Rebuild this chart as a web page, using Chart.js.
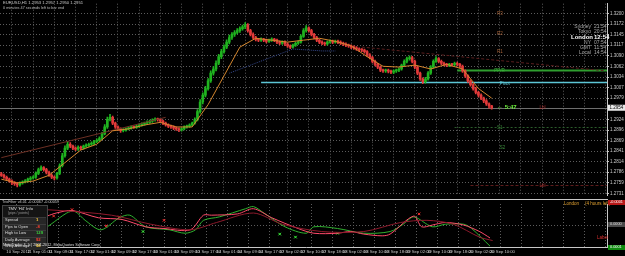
<!DOCTYPE html>
<html><head><meta charset="utf-8">
<script src="https://cdn.jsdelivr.net/npm/chart.js@4.4.1/dist/chart.umd.min.js"></script>
<style>
html,body{margin:0;padding:0;background:#000;width:625px;height:256px;overflow:hidden}
#wrap{position:relative;width:625px;height:256px;font-family:'Liberation Sans',Arial,sans-serif;background:#000}
canvas{position:absolute;left:0}
#main{top:0}
#sub{top:199px}
.t{position:absolute;white-space:nowrap;line-height:1;color:#c8c8c8;font-size:4.5px}
.box{position:absolute}
</style></head><body>
<div id="wrap">
<canvas id="main" width="625" height="199"></canvas>
<canvas id="sub" width="625" height="57"></canvas>
</div>
<script>
// ---------- data ----------
const dateLabels = ['10 Sep 2012','11 Sep 01:00','11 Sep 09:00','11 Sep 17:00','12 Sep 01:00','12 Sep 09:00','12 Sep 17:00','13 Sep 01:00','13 Sep 09:00','13 Sep 17:00','14 Sep 01:00','14 Sep 09:00','14 Sep 17:00','17 Sep 02:00','17 Sep 10:00','17 Sep 18:00','18 Sep 02:00','18 Sep 10:00','18 Sep 18:00','19 Sep 02:00','19 Sep 10:00','19 Sep 18:00','20 Sep 02:00','20 Sep 10:00'];
const priceTicks = [1.3200,1.3172,1.3145,1.3117,1.3090,1.3062,1.3034,1.3007,1.2979,1.2952,1.2924,1.2896,1.2869,1.2841,1.2814,1.2786,1.2759,1.2731];
const opens = [
1.2782,1.2778,1.2773,1.2768,1.2763,1.2758,1.2756,1.2753,1.2758,1.2761,
1.2763,1.2768,1.2771,1.2773,1.2783,1.2793,1.2798,1.2793,1.2786,1.2778,
1.2773,1.2771,1.2783,1.2803,1.2829,1.2849,1.2859,1.2854,1.2849,1.2846,
1.2851,1.2849,1.2854,1.2856,1.2859,1.2861,1.2866,1.2869,1.2874,1.2886,
1.2904,1.2924,1.2929,1.2914,1.2904,1.2899,1.2894,1.2896,1.2899,1.2901,
1.2904,1.2903,1.2906,1.2909,1.2911,1.2914,1.2916,1.2919,1.2922,1.2924,
1.2923,1.2919,1.2914,1.2909,1.2906,1.2904,1.2901,1.2899,1.2896,1.2899,
1.2904,1.2906,1.2909,1.2914,1.2924,1.2944,1.2969,1.2987,1.3004,1.3024,
1.3044,1.3055,1.3070,1.3087,1.3100,1.3112,1.3125,1.3137,1.3145,1.3150,
1.3155,1.3160,1.3165,1.3170,1.3155,1.3145,1.3137,1.3132,1.3130,1.3132,
1.3130,1.3127,1.3130,1.3132,1.3130,1.3125,1.3122,1.3125,1.3120,1.3115,
1.3112,1.3117,1.3122,1.3125,1.3140,1.3155,1.3162,1.3155,1.3145,1.3137,
1.3130,1.3125,1.3122,1.3120,1.3125,1.3127,1.3125,1.3127,1.3125,1.3122,
1.3120,1.3117,1.3115,1.3112,1.3110,1.3107,1.3105,1.3104,1.3100,1.3092,
1.3085,1.3075,1.3067,1.3060,1.3052,1.3050,1.3052,1.3049,1.3047,1.3050,
1.3052,1.3055,1.3065,1.3075,1.3082,1.3085,1.3075,1.3060,1.3044,1.3029,
1.3022,1.3029,1.3044,1.3060,1.3075,1.3082,1.3075,1.3070,1.3067,1.3065,
1.3067,1.3066,1.3070,1.3067,1.3062,1.3050,1.3037,1.3024,1.3014,1.3004,
1.2994,1.2987,1.2979,1.2972,1.2964,1.2959];
const closes = [
1.2778,1.2773,1.2768,1.2763,1.2758,1.2756,1.2753,1.2758,1.2761,1.2763,
1.2768,1.2771,1.2773,1.2783,1.2793,1.2798,1.2793,1.2786,1.2778,1.2773,
1.2771,1.2783,1.2803,1.2829,1.2849,1.2859,1.2854,1.2849,1.2846,1.2851,
1.2849,1.2854,1.2856,1.2859,1.2861,1.2866,1.2869,1.2874,1.2886,1.2904,
1.2924,1.2929,1.2914,1.2904,1.2899,1.2894,1.2896,1.2899,1.2901,1.2904,
1.2903,1.2906,1.2909,1.2911,1.2914,1.2916,1.2919,1.2922,1.2924,1.2923,
1.2919,1.2914,1.2909,1.2906,1.2904,1.2901,1.2899,1.2896,1.2899,1.2904,
1.2906,1.2909,1.2914,1.2924,1.2944,1.2969,1.2987,1.3004,1.3024,1.3044,
1.3055,1.3070,1.3087,1.3100,1.3112,1.3125,1.3137,1.3145,1.3150,1.3155,
1.3160,1.3165,1.3170,1.3155,1.3145,1.3137,1.3132,1.3130,1.3132,1.3130,
1.3127,1.3130,1.3132,1.3130,1.3125,1.3122,1.3125,1.3120,1.3115,1.3112,
1.3117,1.3122,1.3125,1.3140,1.3155,1.3162,1.3155,1.3145,1.3137,1.3130,
1.3125,1.3122,1.3120,1.3125,1.3127,1.3125,1.3127,1.3125,1.3122,1.3120,
1.3117,1.3115,1.3112,1.3110,1.3107,1.3105,1.3104,1.3100,1.3092,1.3085,
1.3075,1.3067,1.3060,1.3052,1.3050,1.3052,1.3049,1.3047,1.3050,1.3052,
1.3055,1.3065,1.3075,1.3082,1.3085,1.3075,1.3060,1.3044,1.3029,1.3022,
1.3029,1.3044,1.3060,1.3075,1.3082,1.3075,1.3070,1.3067,1.3065,1.3067,
1.3066,1.3070,1.3067,1.3062,1.3050,1.3037,1.3024,1.3014,1.3004,1.2994,
1.2987,1.2979,1.2972,1.2964,1.2959,1.2954];
const highs = [
1.2786,1.2781,1.2776,1.2771,1.2766,1.2762,1.2760,1.2761,1.2764,1.2767,
1.2771,1.2775,1.2777,1.2787,1.2797,1.2803,1.2801,1.2796,1.2789,1.2781,
1.2776,1.2786,1.2808,1.2835,1.2855,1.2866,1.2863,1.2857,1.2852,1.2855,
1.2854,1.2857,1.2860,1.2862,1.2865,1.2869,1.2873,1.2878,1.2890,1.2910,
1.2930,1.2937,1.2932,1.2917,1.2907,1.2902,1.2900,1.2902,1.2904,1.2907,
1.2907,1.2909,1.2912,1.2915,1.2917,1.2920,1.2922,1.2925,1.2928,1.2927,
1.2926,1.2922,1.2917,1.2912,1.2909,1.2907,1.2904,1.2902,1.2902,1.2907,
1.2909,1.2912,1.2917,1.2928,1.2949,1.2975,1.2993,1.3010,1.3030,1.3050,
1.3061,1.3076,1.3093,1.3106,1.3118,1.3131,1.3143,1.3150,1.3155,1.3160,
1.3165,1.3169,1.3176,1.3173,1.3158,1.3149,1.3140,1.3135,1.3136,1.3135,
1.3133,1.3133,1.3136,1.3135,1.3133,1.3128,1.3128,1.3128,1.3123,1.3118,
1.3120,1.3125,1.3128,1.3144,1.3160,1.3168,1.3165,1.3158,1.3148,1.3140,
1.3133,1.3128,1.3125,1.3128,1.3131,1.3130,1.3130,1.3130,1.3128,1.3125,
1.3123,1.3120,1.3118,1.3115,1.3113,1.3110,1.3108,1.3107,1.3103,1.3095,
1.3088,1.3078,1.3070,1.3063,1.3055,1.3055,1.3055,1.3052,1.3053,1.3055,
1.3058,1.3068,1.3079,1.3086,1.3089,1.3088,1.3078,1.3063,1.3047,1.3032,
1.3033,1.3048,1.3064,1.3079,1.3087,1.3085,1.3078,1.3073,1.3070,1.3070,
1.3070,1.3073,1.3073,1.3070,1.3065,1.3053,1.3040,1.3027,1.3017,1.3007,
1.2997,1.2990,1.2982,1.2975,1.2967,1.2960];
const lows = [
1.2775,1.2770,1.2765,1.2760,1.2754,1.2752,1.2748,1.2750,1.2755,1.2758,
1.2760,1.2765,1.2768,1.2770,1.2780,1.2790,1.2789,1.2782,1.2775,1.2769,
1.2766,1.2768,1.2780,1.2800,1.2825,1.2845,1.2850,1.2845,1.2842,1.2843,
1.2845,1.2846,1.2851,1.2853,1.2856,1.2858,1.2863,1.2866,1.2871,1.2883,
1.2900,1.2920,1.2910,1.2900,1.2895,1.2890,1.2891,1.2893,1.2896,1.2898,
1.2900,1.2900,1.2903,1.2906,1.2908,1.2911,1.2913,1.2916,1.2919,1.2919,
1.2915,1.2910,1.2906,1.2902,1.2900,1.2897,1.2895,1.2892,1.2893,1.2896,
1.2901,1.2903,1.2906,1.2911,1.2920,1.2940,1.2964,1.2982,1.3000,1.3020,
1.3039,1.3050,1.3066,1.3082,1.3096,1.3108,1.3120,1.3132,1.3140,1.3146,
1.3150,1.3156,1.3160,1.3151,1.3141,1.3133,1.3128,1.3126,1.3127,1.3126,
1.3123,1.3124,1.3127,1.3126,1.3121,1.3118,1.3119,1.3116,1.3111,1.3108,
1.3109,1.3114,1.3119,1.3122,1.3137,1.3151,1.3151,1.3141,1.3133,1.3126,
1.3121,1.3118,1.3116,1.3117,1.3122,1.3121,1.3122,1.3121,1.3118,1.3116,
1.3113,1.3111,1.3108,1.3106,1.3103,1.3101,1.3100,1.3096,1.3088,1.3081,
1.3071,1.3063,1.3056,1.3048,1.3046,1.3046,1.3045,1.3043,1.3043,1.3046,
1.3048,1.3052,1.3062,1.3071,1.3078,1.3071,1.3056,1.3040,1.3025,1.3017,
1.3018,1.3026,1.3041,1.3057,1.3072,1.3071,1.3066,1.3063,1.3061,1.3061,
1.3062,1.3062,1.3063,1.3058,1.3046,1.3033,1.3020,1.3010,1.3000,1.2990,
1.2982,1.2975,1.2967,1.2960,1.2953,1.2950];
// moving average (orange), read at sampled bars
const maIdx = [0,6,12,18,24,30,36,42,48,54,60,66,72,78,84,90,96,102,108,114,120,126,132,138,144,150,156,162,168,174,180,185];
const maVal = [1.2768,1.2758,1.2763,1.2778,1.2811,1.2844,1.2859,1.2894,1.2899,1.2909,1.2916,1.2904,1.2904,1.2962,1.3037,1.3112,1.3135,1.3130,1.3125,1.3130,1.3135,1.3127,1.3115,1.3087,1.3062,1.3060,1.3065,1.3055,1.3067,1.3055,1.3004,1.2979];
// trend lines
const trendIdx = [0,62];            const trendVal = [1.2824,1.2929];
const trend2Idx = [136,228];        const trend2Val = [1.3112,1.3050];
const zigIdx = [86,110,121,121,126]; const zigVal = [1.3044,1.3107,1.3107,1.3102,1.3102];
// levels
const bidPrice = 1.2954;
const levelVal = [1.3052,1.3022,1.2904,1.2753];
const levelStart = [172,98,171,177];
const levelText = ['R3','R2','R1','PP/R','Pivot','S1','S2','Lbl','Lbl'];
const levelTextVal = [1.3200,1.3147,1.3100,1.3050,1.3017,1.2901,1.2849,1.2954,1.2751];
const levelTextIdx = [187,187,187,186,188,187,188,203,203];
// indicator pane
const grIdx = [12,17,23,26,30,36,43,47,53,62,68,72,75,81,91,94,98,106,114,117,126,136,146,151,155,162,167,174,177,184];
const grVal = [32,53,79,83,62,40,68,74,47,40,32,40,62,70,89,94,79,47,32,47,43,32,36,53,70,47,53,53,43,2];
const pkIdx = [0,12,19,25,35,44,53,60,70,75,78,88,94,101,111,117,126,131,136,143,146,155,158,162,167,174,180,184];
const pkVal = [94,68,79,85,68,64,47,43,40,74,74,77,89,68,43,32,32,36,30,26,30,72,47,51,57,51,36,21];
const drIdx = [0,20,40,55,70,80,94,105,120,136,150,160,170,180,185];
const drVal = [91,85,74,53,40,57,79,53,36,36,57,62,53,23,15];
const redMarkIdx = [18,25,38,43,60,157]; const redMarkVal = [72,87,49,70,62,77];
const grnMarkIdx = [52,104,110,126];     const grnMarkVal = [36,30,23,32];

// ---------- build ----------
const N = 229;
const cats = Array.from({length:N},(_,i)=> (i%8===0 && dateLabels[i/8]) ? dateLabels[i/8] : '');
function sparse(idx,val){const a=new Array(N).fill(null);idx.forEach((k,j)=>{a[k]=val[j];});return a;}
const UP='#1fb31f', DN='#e23a3a';
const candleColor = opens.map((o,i)=> closes[i]>=o ? UP : DN);
const GRID='#5c5c5c';
const vGrid = ctx => (ctx.index%8===4) ? GRID : 'rgba(0,0,0,0)';

Chart.defaults.font.family = "'Liberation Sans', Arial, sans-serif";
Chart.defaults.animation = false;

const levelPlugin = {
  id:'levels',
  beforeDatasetsDraw(chart){
    const {ctx, scales:{x,y}, chartArea:a} = chart;
    ctx.save();
    ctx.strokeStyle='#6e6e6e'; ctx.lineWidth=1;
    let yb=Math.round(y.getPixelForValue(bidPrice))+0.5;
    ctx.beginPath(); ctx.moveTo(a.left,yb); ctx.lineTo(a.right,yb); ctx.stroke();
    const st=[{c:'#2f9e2f',w:2,d:[]},{c:'#5cc6d6',w:1.5,d:[]},{c:'#2c5e2c',w:1,d:[2,2]},{c:'#5e1c1c',w:1,d:[3,2]}];
    levelVal.forEach((v,i)=>{
      const yy=Math.round(y.getPixelForValue(v))+0.5;
      ctx.strokeStyle=st[i].c; ctx.lineWidth=st[i].w; ctx.setLineDash(st[i].d);
      ctx.beginPath(); ctx.moveTo(x.getPixelForValue(levelStart[i]),yy); ctx.lineTo(a.right,yy); ctx.stroke();
    });
    ctx.setLineDash([]);
    ctx.restore();
  },
  afterDatasetsDraw(chart){
    const {ctx, scales:{x,y}, chartArea:a} = chart;
    ctx.save();
    const cols=['#a8643a','#a8643a','#a8643a','#3cb43c','#5cc6d6','#3c8c3c','#3c8c3c','#a83030','#a83030'];
    ctx.font="4.5px 'Liberation Sans'"; ctx.textBaseline='middle'; ctx.textAlign='left';
    levelText.forEach((t,i)=>{
      ctx.fillStyle=cols[i];
      ctx.fillText(t, x.getPixelForValue(levelTextIdx[i]), y.getPixelForValue(levelTextVal[i]));
    });
    ctx.font="bold 6px 'Liberation Sans'"; ctx.fillStyle='#6cf03c';
    ctx.fillText('\u2190 5:47', x.getPixelForValue(closes.length+1), y.getPixelForValue(closes[closes.length-1]));
    const yb=y.getPixelForValue(bidPrice);
    ctx.fillStyle='#e8e8e8'; ctx.fillRect(a.right+1,yb-3,17,6);
    ctx.fillStyle='#000'; ctx.font="4.5px 'Liberation Sans'"; ctx.fillText(bidPrice.toFixed(4), a.right+2.5, yb);
    ctx.restore();
  }
};

new Chart(document.getElementById('main'), {
  type:'bar',
  data:{ labels:cats, datasets:[
    {type:'line', data:sparse(maIdx,maVal), borderColor:'#d4862e', borderWidth:1, pointRadius:0, spanGaps:true, order:0},
    {type:'line', data:sparse(trendIdx,trendVal), borderColor:'#6e3024', borderWidth:1, pointRadius:0, spanGaps:true, order:0},
    {type:'line', data:sparse(trend2Idx,trend2Val), borderColor:'#5a1e1e', borderWidth:1, borderDash:[3,2], pointRadius:0, spanGaps:true, order:0},
    {type:'line', data:sparse(zigIdx,zigVal), borderColor:'#34478a', borderWidth:1, borderDash:[1,1], pointRadius:0, spanGaps:true, order:0},
    {data:highs.map((h,i)=>[lows[i],h]), backgroundColor:candleColor, barThickness:1, grouped:false, order:2},
    {data:opens.map((o,i)=>[o,closes[i]]), backgroundColor:candleColor, barThickness:2, minBarLength:1, grouped:false, order:1}
  ]},
  options:{
    responsive:false, animation:false, events:[],
    layout:{padding:{left:0,right:0,top:0,bottom:0}},
    plugins:{legend:{display:false}, tooltip:{enabled:false}},
    scales:{
      x:{type:'category', offset:true, grid:{offset:false, color:vGrid, lineWidth:1, drawTicks:false}, border:{display:false, dash:[1,2]},
         ticks:{display:false, autoSkip:false}, afterFit:s=>{s.height=0;}},
      y:{position:'right', min:1.2726, max:1.3225,
         afterBuildTicks:s=>{s.ticks=priceTicks.map(v=>({value:v}));},
         afterFit:s=>{s.width=18;},
         grid:{color:GRID, lineWidth:1, tickLength:2, tickColor:'#c8c8c8'}, border:{color:'#c8c8c8', width:1, dash:[1,2]},
         ticks:{color:'#c8c8c8', font:{size:4.5}, padding:1, callback:v=>Number(v).toFixed(4)}}
    }
  },
  plugins:[levelPlugin]
});

new Chart(document.getElementById('sub'), {
  type:'line',
  data:{ labels:cats, datasets:[
    {data:sparse(drIdx,drVal), borderColor:'#8e1a2c', borderWidth:1, pointRadius:0, spanGaps:true, tension:0.3},
    {data:sparse(pkIdx,pkVal), borderColor:'#ff4a6a', borderWidth:1, pointRadius:0, spanGaps:true, tension:0.3},
    {data:sparse(grIdx,grVal), borderColor:'#2fb02f', borderWidth:1, pointRadius:0, spanGaps:true, tension:0.3},
    {data:sparse(redMarkIdx,redMarkVal), showLine:false, pointStyle:'crossRot', pointRadius:1.8, borderColor:'#ff3030', borderWidth:1},
    {data:sparse(grnMarkIdx,grnMarkVal), showLine:false, pointStyle:'crossRot', pointRadius:1.8, borderColor:'#40ff40', borderWidth:1}
  ]},
  options:{
    responsive:false, animation:false, events:[],
    layout:{padding:{left:0,right:0,top:1,bottom:0}},
    plugins:{legend:{display:false}, tooltip:{enabled:false}},
    scales:{
      x:{type:'category', offset:true, grid:{offset:false, color:vGrid, drawTicks:false}, border:{color:'#c8c8c8', dash:[1,2]},
         ticks:{autoSkip:false, maxRotation:0, minRotation:0, align:'start', color:'#c8c8c8', font:{size:4.2}, padding:2,
                callback:(v,i)=>cats[i]}, afterFit:s=>{s.height=9;}},
      y:{position:'right', min:0, max:100, afterFit:s=>{s.width=18;},
         afterBuildTicks:s=>{s.ticks=[{value:0},{value:50},{value:100}];},
         grid:{color:c=>c.tick.value===50?GRID:'rgba(0,0,0,0)', drawTicks:false}, border:{color:'#c8c8c8', dash:[1,2]},
         ticks:{display:false}}
    }
  }
});

// ---------- text overlays ----------
const wrap=document.getElementById('wrap');
function txt(s,l,t,css){const d=document.createElement('div');d.className='t';d.textContent=s;d.style.left=l+'px';d.style.top=t+'px';if(css)d.style.cssText+=css;wrap.appendChild(d);return d;}
function box(l,t,w,h,css){const d=document.createElement('div');d.className='box';d.style.cssText+=`left:${l}px;top:${t}px;width:${w}px;height:${h}px;`+css;wrap.appendChild(d);return d;}
txt('EURUSD,H1  1.2953 1.2957 1.2950 1.2951',3,1,'font-size:4.2px;');
txt('0 minutes 47 seconds left to bar end',3,7,'font-size:3.8px;color:#bbb;');
const clkN=['Sydney','Tokyo','London','NY','GMT','Local'];
const clkT=['21:54','20:54','12:54','07:54','11:54','14:54'];
clkN.forEach((n,i)=>{
  const big=i===2; const top=24+i*5+(i>2?1:0);
  txt(n,0,top,`font-size:${big?6:5}px;color:${big?'#fff':'#a8a8a8'};${big?'font-weight:bold;':''}text-align:right;width:20px;left:571px;`);
  txt(clkT[i],594,top,`font-size:${big?6:5}px;color:${big?'#fff':'#a8a8a8'};${big?'font-weight:bold;':''}`);
});
box(0,199,608,1,'background:#c8c8c8;');
txt('TrixFilter v4.01  -0.00067  -0.00059',2,201,'font-size:3.8px;color:#c8c8c8;');
box(2,205,44,42,'background:#141414;border:1px solid #444;');
const rows=[['Spread','1','#ffd23a'],['Pips to Open','-8','#ff4030'],['High to Low','129','#3cd23c'],['Daily Average','92','#ff4030'],['Wkly Average','98','#ffd23a']];
txt("TMV 'H4' Info",8,207,'font-size:4.2px;color:#ddd;');
txt('(pips / points)',8,212,'font-size:3.5px;color:#999;');
rows.forEach((r,i)=>{
  const top=217+i*6.5;
  box(3,top,43,5.5,'background:#262626;border-top:1px solid #3a3a3a;');
  txt(r[0],5,top+1,'font-size:4px;color:#ddd;');
  txt(r[1],36,top+1,`font-size:4.2px;color:${r[2]};font-weight:bold;`);
});
txt('MetaTrader 4, (c) 2001-2012, MetaQuotes Software Corp.',3,244,'font-size:3.8px;color:#ddd;');
txt('London',564,202,'font-size:4.5px;color:#e0a030;');
txt('(4 hours left)',585,202,'font-size:4.5px;color:#e0a030;');
txt('Label',597,236,'font-size:4.5px;color:#e03030;');
box(608,200,17,5,'background:#b81818;');
box(608,222,17,5,'background:#4a4a4a;');
box(608,245,17,5,'background:#0e8a0e;');
txt('-0.0001',610,200.5,'font-size:3.8px;color:#fff;');
txt('0.0000',610,222.5,'font-size:3.8px;color:#ddd;');
txt('0.0001',610,245.5,'font-size:3.8px;color:#fff;');
</script>
</body></html>
